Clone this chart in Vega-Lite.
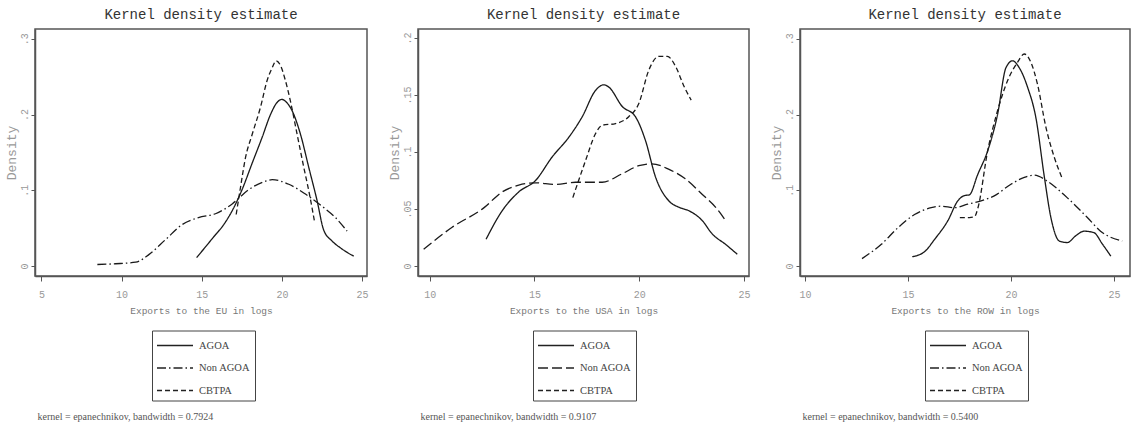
{
  "$schema": "https://vega.github.io/schema/vega-lite/v6.json",
  "background": "white",
  "padding": {"left": 4, "top": 7, "right": 0, "bottom": 0},
  "datasets": {
    "eu": [
      {"exports": 14.68, "density": 0.011, "group": "AGOA"},
      {"exports": 15.65, "density": 0.036, "group": "AGOA"},
      {"exports": 16.48, "density": 0.058, "group": "AGOA"},
      {"exports": 17.0, "density": 0.077, "group": "AGOA"},
      {"exports": 17.52, "density": 0.101, "group": "AGOA"},
      {"exports": 18.15, "density": 0.136, "group": "AGOA"},
      {"exports": 18.77, "density": 0.17, "group": "AGOA"},
      {"exports": 19.29, "density": 0.2, "group": "AGOA"},
      {"exports": 19.7, "density": 0.216, "group": "AGOA"},
      {"exports": 20.0, "density": 0.22, "group": "AGOA"},
      {"exports": 20.3, "density": 0.216, "group": "AGOA"},
      {"exports": 20.64, "density": 0.205, "group": "AGOA"},
      {"exports": 21.16, "density": 0.174, "group": "AGOA"},
      {"exports": 21.68, "density": 0.13, "group": "AGOA"},
      {"exports": 22.2, "density": 0.086, "group": "AGOA"},
      {"exports": 22.6, "density": 0.048, "group": "AGOA"},
      {"exports": 23.13, "density": 0.033, "group": "AGOA"},
      {"exports": 23.65, "density": 0.024, "group": "AGOA"},
      {"exports": 24.48, "density": 0.013, "group": "AGOA"},
      {"exports": 8.49, "density": 0.002, "group": "Non AGOA"},
      {"exports": 9.63, "density": 0.003, "group": "Non AGOA"},
      {"exports": 10.88, "density": 0.005, "group": "Non AGOA"},
      {"exports": 11.7, "density": 0.015, "group": "Non AGOA"},
      {"exports": 12.75, "density": 0.035, "group": "Non AGOA"},
      {"exports": 13.8, "density": 0.055, "group": "Non AGOA"},
      {"exports": 14.8, "density": 0.064, "group": "Non AGOA"},
      {"exports": 15.86, "density": 0.069, "group": "Non AGOA"},
      {"exports": 16.9, "density": 0.082, "group": "Non AGOA"},
      {"exports": 17.94, "density": 0.101, "group": "Non AGOA"},
      {"exports": 18.98, "density": 0.112, "group": "Non AGOA"},
      {"exports": 19.4, "density": 0.114, "group": "Non AGOA"},
      {"exports": 20.43, "density": 0.108, "group": "Non AGOA"},
      {"exports": 21.47, "density": 0.095, "group": "Non AGOA"},
      {"exports": 22.5, "density": 0.079, "group": "Non AGOA"},
      {"exports": 23.34, "density": 0.064, "group": "Non AGOA"},
      {"exports": 24.07, "density": 0.046, "group": "Non AGOA"},
      {"exports": 17.15, "density": 0.068, "group": "CBTPA"},
      {"exports": 17.42, "density": 0.104, "group": "CBTPA"},
      {"exports": 17.73, "density": 0.143, "group": "CBTPA"},
      {"exports": 18.15, "density": 0.174, "group": "CBTPA"},
      {"exports": 18.67, "density": 0.21, "group": "CBTPA"},
      {"exports": 19.08, "density": 0.245, "group": "CBTPA"},
      {"exports": 19.4, "density": 0.262, "group": "CBTPA"},
      {"exports": 19.64, "density": 0.271, "group": "CBTPA"},
      {"exports": 19.91, "density": 0.265, "group": "CBTPA"},
      {"exports": 20.22, "density": 0.245, "group": "CBTPA"},
      {"exports": 20.53, "density": 0.218, "group": "CBTPA"},
      {"exports": 20.95, "density": 0.174, "group": "CBTPA"},
      {"exports": 21.37, "density": 0.13, "group": "CBTPA"},
      {"exports": 21.72, "density": 0.095, "group": "CBTPA"},
      {"exports": 22.05, "density": 0.057, "group": "CBTPA"}
    ],
    "usa": [
      {"exports": 12.69, "density": 0.0235, "group": "AGOA"},
      {"exports": 13.46, "density": 0.0485, "group": "AGOA"},
      {"exports": 14.25, "density": 0.065, "group": "AGOA"},
      {"exports": 15.05, "density": 0.075, "group": "AGOA"},
      {"exports": 15.84, "density": 0.0956, "group": "AGOA"},
      {"exports": 16.64, "density": 0.113, "group": "AGOA"},
      {"exports": 17.28, "density": 0.131, "group": "AGOA"},
      {"exports": 17.91, "density": 0.154, "group": "AGOA"},
      {"exports": 18.31, "density": 0.159, "group": "AGOA"},
      {"exports": 18.55, "density": 0.157, "group": "AGOA"},
      {"exports": 19.19, "density": 0.14, "group": "AGOA"},
      {"exports": 19.82, "density": 0.131, "group": "AGOA"},
      {"exports": 20.3, "density": 0.11, "group": "AGOA"},
      {"exports": 20.78, "density": 0.078, "group": "AGOA"},
      {"exports": 21.42, "density": 0.057, "group": "AGOA"},
      {"exports": 21.9, "density": 0.0515, "group": "AGOA"},
      {"exports": 22.37, "density": 0.0485, "group": "AGOA"},
      {"exports": 23.0, "density": 0.04, "group": "AGOA"},
      {"exports": 23.49, "density": 0.028, "group": "AGOA"},
      {"exports": 24.12, "density": 0.019, "group": "AGOA"},
      {"exports": 24.68, "density": 0.0103, "group": "AGOA"},
      {"exports": 9.71, "density": 0.0147, "group": "Non AGOA"},
      {"exports": 11.07, "density": 0.034, "group": "Non AGOA"},
      {"exports": 12.58, "density": 0.051, "group": "Non AGOA"},
      {"exports": 13.46, "density": 0.065, "group": "Non AGOA"},
      {"exports": 14.25, "density": 0.071, "group": "Non AGOA"},
      {"exports": 15.06, "density": 0.073, "group": "Non AGOA"},
      {"exports": 16.0, "density": 0.0715, "group": "Non AGOA"},
      {"exports": 16.96, "density": 0.0735, "group": "Non AGOA"},
      {"exports": 18.23, "density": 0.0735, "group": "Non AGOA"},
      {"exports": 19.19, "density": 0.081, "group": "Non AGOA"},
      {"exports": 19.98, "density": 0.088, "group": "Non AGOA"},
      {"exports": 20.6, "density": 0.0897, "group": "Non AGOA"},
      {"exports": 21.4, "density": 0.085, "group": "Non AGOA"},
      {"exports": 22.2, "density": 0.0765, "group": "Non AGOA"},
      {"exports": 23.0, "density": 0.063, "group": "Non AGOA"},
      {"exports": 23.65, "density": 0.0515, "group": "Non AGOA"},
      {"exports": 24.12, "density": 0.04, "group": "Non AGOA"},
      {"exports": 16.83, "density": 0.06, "group": "CBTPA"},
      {"exports": 17.44, "density": 0.0926, "group": "CBTPA"},
      {"exports": 17.91, "density": 0.116, "group": "CBTPA"},
      {"exports": 18.23, "density": 0.1235, "group": "CBTPA"},
      {"exports": 18.87, "density": 0.125, "group": "CBTPA"},
      {"exports": 19.5, "density": 0.131, "group": "CBTPA"},
      {"exports": 19.98, "density": 0.1426, "group": "CBTPA"},
      {"exports": 20.46, "density": 0.172, "group": "CBTPA"},
      {"exports": 20.94, "density": 0.184, "group": "CBTPA"},
      {"exports": 21.34, "density": 0.184, "group": "CBTPA"},
      {"exports": 21.74, "density": 0.175, "group": "CBTPA"},
      {"exports": 22.13, "density": 0.158, "group": "CBTPA"},
      {"exports": 22.48, "density": 0.1456, "group": "CBTPA"}
    ],
    "row": [
      {"exports": 15.21, "density": 0.0123, "group": "AGOA"},
      {"exports": 15.81, "density": 0.019, "group": "AGOA"},
      {"exports": 16.29, "density": 0.035, "group": "AGOA"},
      {"exports": 16.94, "density": 0.06, "group": "AGOA"},
      {"exports": 17.42, "density": 0.086, "group": "AGOA"},
      {"exports": 17.74, "density": 0.093, "group": "AGOA"},
      {"exports": 17.98, "density": 0.094, "group": "AGOA"},
      {"exports": 18.39, "density": 0.121, "group": "AGOA"},
      {"exports": 18.87, "density": 0.152, "group": "AGOA"},
      {"exports": 19.35, "density": 0.2, "group": "AGOA"},
      {"exports": 19.76, "density": 0.262, "group": "AGOA"},
      {"exports": 20.08, "density": 0.271, "group": "AGOA"},
      {"exports": 20.4, "density": 0.262, "group": "AGOA"},
      {"exports": 20.81, "density": 0.236, "group": "AGOA"},
      {"exports": 21.21, "density": 0.196, "group": "AGOA"},
      {"exports": 21.62, "density": 0.118, "group": "AGOA"},
      {"exports": 21.94, "density": 0.064, "group": "AGOA"},
      {"exports": 22.35, "density": 0.033, "group": "AGOA"},
      {"exports": 22.74, "density": 0.031, "group": "AGOA"},
      {"exports": 23.15, "density": 0.04, "group": "AGOA"},
      {"exports": 23.55, "density": 0.046, "group": "AGOA"},
      {"exports": 24.03, "density": 0.044, "group": "AGOA"},
      {"exports": 24.44, "density": 0.029, "group": "AGOA"},
      {"exports": 24.85, "density": 0.013, "group": "AGOA"},
      {"exports": 12.77, "density": 0.0097, "group": "Non AGOA"},
      {"exports": 13.71, "density": 0.0287, "group": "Non AGOA"},
      {"exports": 14.52, "density": 0.0507, "group": "Non AGOA"},
      {"exports": 15.32, "density": 0.068, "group": "Non AGOA"},
      {"exports": 16.13, "density": 0.077, "group": "Non AGOA"},
      {"exports": 16.61, "density": 0.079, "group": "Non AGOA"},
      {"exports": 17.26, "density": 0.077, "group": "Non AGOA"},
      {"exports": 17.9, "density": 0.0816, "group": "Non AGOA"},
      {"exports": 18.55, "density": 0.086, "group": "Non AGOA"},
      {"exports": 19.19, "density": 0.0926, "group": "Non AGOA"},
      {"exports": 20.0, "density": 0.108, "group": "Non AGOA"},
      {"exports": 20.65, "density": 0.117, "group": "Non AGOA"},
      {"exports": 21.13, "density": 0.12, "group": "Non AGOA"},
      {"exports": 21.77, "density": 0.112, "group": "Non AGOA"},
      {"exports": 22.74, "density": 0.09, "group": "Non AGOA"},
      {"exports": 23.71, "density": 0.064, "group": "Non AGOA"},
      {"exports": 24.35, "density": 0.046, "group": "Non AGOA"},
      {"exports": 25.4, "density": 0.033, "group": "Non AGOA"},
      {"exports": 17.52, "density": 0.064, "group": "CBTPA"},
      {"exports": 17.98, "density": 0.064, "group": "CBTPA"},
      {"exports": 18.23, "density": 0.065, "group": "CBTPA"},
      {"exports": 18.4, "density": 0.077, "group": "CBTPA"},
      {"exports": 18.87, "density": 0.152, "group": "CBTPA"},
      {"exports": 19.35, "density": 0.205, "group": "CBTPA"},
      {"exports": 19.84, "density": 0.245, "group": "CBTPA"},
      {"exports": 20.32, "density": 0.269, "group": "CBTPA"},
      {"exports": 20.65, "density": 0.28, "group": "CBTPA"},
      {"exports": 20.97, "density": 0.269, "group": "CBTPA"},
      {"exports": 21.29, "density": 0.24, "group": "CBTPA"},
      {"exports": 21.7, "density": 0.183, "group": "CBTPA"},
      {"exports": 22.1, "density": 0.144, "group": "CBTPA"},
      {"exports": 22.47, "density": 0.117, "group": "CBTPA"}
    ]
  },
  "bounds": "flush",
  "spacing": 51,
  "resolve": {"scale": {"strokeDash": "independent"}, "legend": {"strokeDash": "independent"}},
  "hconcat": [
    {
      "width": 332, "height": 247,
      "data": {"name": "eu"},
      "title": "Kernel density estimate",
      "resolve": {"axis": {"x": "independent"}},
      "layer": [
        {
          "transform": [{"filter": "datum.group !== 'CBTPA'"}],
          "mark": {"type": "line", "interpolate": "monotone", "strokeWidth": 1.3, "color": "#1a1a1a"},
          "encoding": {
            "x": {"field": "exports", "type": "quantitative", "scale": {"domain": [4.6, 25.31], "nice": false, "zero": false},
                  "axis": {"orient": "bottom", "title": "Exports to the EU in logs", "values": [5, 10, 15, 20, 25]}},
            "y": {"field": "density", "type": "quantitative", "scale": {"domain": [-0.0132, 0.313], "nice": false, "zero": false},
                  "axis": {"title": "Density", "values": [0, 0.1, 0.2, 0.3], "labelExpr": "datum.value == 0 ? '0' : slice(format(datum.value, '.2~f'), 1)"}},
            "strokeDash": {"field": "group", "type": "nominal",
                  "scale": {"domain": ["AGOA", "Non AGOA", "CBTPA"], "range": [[1, 0], [9, 3, 1.5, 3], [5, 3]]},
                  "legend": {"legendX": 117, "legendY": 301.5}}
          }
        },
        {
          "transform": [{"filter": "datum.group === 'CBTPA'"}],
          "mark": {"type": "line", "interpolate": "monotone", "strokeWidth": 1.3, "color": "#1a1a1a"},
          "encoding": {
            "x": {"field": "exports", "type": "quantitative",
                  "axis": {"orient": "bottom", "title": "kernel = epanechnikov, bandwidth = 0.7924", "labels": false, "ticks": false, "domain": false,
                           "titleAnchor": "start", "titleAlign": "left", "titleX": 2, "titleY": 143, "titleBaseline": "alphabetic",
                           "titleFont": "Liberation Serif", "titleFontSize": 10, "titleColor": "#555"}},
            "y": {"field": "density", "type": "quantitative",
                  "axis": {"title": "Density", "values": [0, 0.1, 0.2, 0.3], "labelExpr": "datum.value == 0 ? '0' : slice(format(datum.value, '.2~f'), 1)"}},
            "strokeDash": {"field": "group", "type": "nominal",
                  "scale": {"domain": ["AGOA", "Non AGOA", "CBTPA"], "range": [[1, 0], [9, 3, 1.5, 3], [5, 3]]},
                  "legend": {"legendX": 117, "legendY": 301.5}}
          }
        }
      ]
    },
    {
      "width": 331, "height": 247,
      "data": {"name": "usa"},
      "title": "Kernel density estimate",
      "resolve": {"axis": {"x": "independent"}},
      "layer": [
        {
          "transform": [{"filter": "datum.group !== 'CBTPA'"}],
          "mark": {"type": "line", "interpolate": "monotone", "strokeWidth": 1.3, "color": "#1a1a1a"},
          "encoding": {
            "x": {"field": "exports", "type": "quantitative", "scale": {"domain": [9.44, 25.24], "nice": false, "zero": false},
                  "axis": {"orient": "bottom", "title": "Exports to the USA in logs", "values": [10, 15, 20, 25]}},
            "y": {"field": "density", "type": "quantitative", "scale": {"domain": [-0.0088, 0.208], "nice": false, "zero": false},
                  "axis": {"title": "Density", "values": [0, 0.05, 0.1, 0.15, 0.2], "labelExpr": "datum.value == 0 ? '0' : slice(format(datum.value, '.2~f'), 1)"}},
            "strokeDash": {"field": "group", "type": "nominal",
                  "scale": {"domain": ["AGOA", "Non AGOA", "CBTPA"], "range": [[1, 0], [10, 4], [5, 3]]},
                  "legend": {"legendX": 115, "legendY": 301.5}}
          }
        },
        {
          "transform": [{"filter": "datum.group === 'CBTPA'"}],
          "mark": {"type": "line", "interpolate": "monotone", "strokeWidth": 1.3, "color": "#1a1a1a"},
          "encoding": {
            "x": {"field": "exports", "type": "quantitative",
                  "axis": {"orient": "bottom", "title": "kernel = epanechnikov, bandwidth = 0.9107", "labels": false, "ticks": false, "domain": false,
                           "titleAnchor": "start", "titleAlign": "left", "titleX": 2, "titleY": 143, "titleBaseline": "alphabetic",
                           "titleFont": "Liberation Serif", "titleFontSize": 10, "titleColor": "#555"}},
            "y": {"field": "density", "type": "quantitative",
                  "axis": {"title": "Density", "values": [0, 0.05, 0.1, 0.15, 0.2], "labelExpr": "datum.value == 0 ? '0' : slice(format(datum.value, '.2~f'), 1)"}},
            "strokeDash": {"field": "group", "type": "nominal",
                  "scale": {"domain": ["AGOA", "Non AGOA", "CBTPA"], "range": [[1, 0], [10, 4], [5, 3]]},
                  "legend": {"legendX": 115, "legendY": 301.5}}
          }
        }
      ]
    },
    {
      "width": 330, "height": 247,
      "data": {"name": "row"},
      "title": "Kernel density estimate",
      "resolve": {"axis": {"x": "independent"}},
      "layer": [
        {
          "transform": [{"filter": "datum.group !== 'CBTPA'"}],
          "mark": {"type": "line", "interpolate": "monotone", "strokeWidth": 1.3, "color": "#1a1a1a"},
          "encoding": {
            "x": {"field": "exports", "type": "quantitative", "scale": {"domain": [9.76, 25.78], "nice": false, "zero": false},
                  "axis": {"orient": "bottom", "title": "Exports to the ROW in logs", "values": [10, 15, 20, 25]}},
            "y": {"field": "density", "type": "quantitative", "scale": {"domain": [-0.0132, 0.313], "nice": false, "zero": false},
                  "axis": {"title": "Density", "values": [0, 0.1, 0.2, 0.3], "labelExpr": "datum.value == 0 ? '0' : slice(format(datum.value, '.2~f'), 1)"}},
            "strokeDash": {"field": "group", "type": "nominal",
                  "scale": {"domain": ["AGOA", "Non AGOA", "CBTPA"], "range": [[1, 0], [9, 3, 1.5, 3], [5, 3]]},
                  "legend": {"legendX": 125, "legendY": 301.5}}
          }
        },
        {
          "transform": [{"filter": "datum.group === 'CBTPA'"}],
          "mark": {"type": "line", "interpolate": "monotone", "strokeWidth": 1.3, "color": "#1a1a1a"},
          "encoding": {
            "x": {"field": "exports", "type": "quantitative",
                  "axis": {"orient": "bottom", "title": "kernel = epanechnikov, bandwidth = 0.5400", "labels": false, "ticks": false, "domain": false,
                           "titleAnchor": "start", "titleAlign": "left", "titleX": 2, "titleY": 143, "titleBaseline": "alphabetic",
                           "titleFont": "Liberation Serif", "titleFontSize": 10, "titleColor": "#555"}},
            "y": {"field": "density", "type": "quantitative",
                  "axis": {"title": "Density", "values": [0, 0.1, 0.2, 0.3], "labelExpr": "datum.value == 0 ? '0' : slice(format(datum.value, '.2~f'), 1)"}},
            "strokeDash": {"field": "group", "type": "nominal",
                  "scale": {"domain": ["AGOA", "Non AGOA", "CBTPA"], "range": [[1, 0], [9, 3, 1.5, 3], [5, 3]]},
                  "legend": {"legendX": 125, "legendY": 301.5}}
          }
        }
      ]
    }
  ],
  "config": {
    "view": {"stroke": "#555", "strokeWidth": 1.5},
    "axis": {"grid": false, "domainColor": "#555", "domainWidth": 1.5, "tickColor": "#555", "tickWidth": 1,
             "labelFont": "Liberation Mono", "titleFont": "Liberation Mono", "labelColor": "#999", "titleColor": "#888", "titleFontWeight": "normal"},
    "axisX": {"tickSize": 5, "labelPadding": 8, "labelFontSize": 10, "titleFontSize": 9.5, "titlePadding": 6, "titleColor": "#777"},
    "axisY": {"tickSize": 4, "labelPadding": 2, "labelFontSize": 10, "labelAngle": -90, "titleFontSize": 13, "titlePadding": 1, "titleColor": "#999"},
    "title": {"font": "Liberation Mono", "fontSize": 14, "fontWeight": "normal", "color": "#333", "offset": 7},
    "legend": {"orient": "none", "title": null, "symbolType": "M-1,0H2.6", "symbolSize": 400, "symbolStrokeWidth": 1.4,
               "symbolStrokeColor": "#222", "labelOffset": 21, "padding": 4, "rowPadding": 5.5, "strokeColor": "#444",
               "labelFont": "Liberation Serif", "labelFontSize": 10.5, "labelColor": "#444"}
  }
}
